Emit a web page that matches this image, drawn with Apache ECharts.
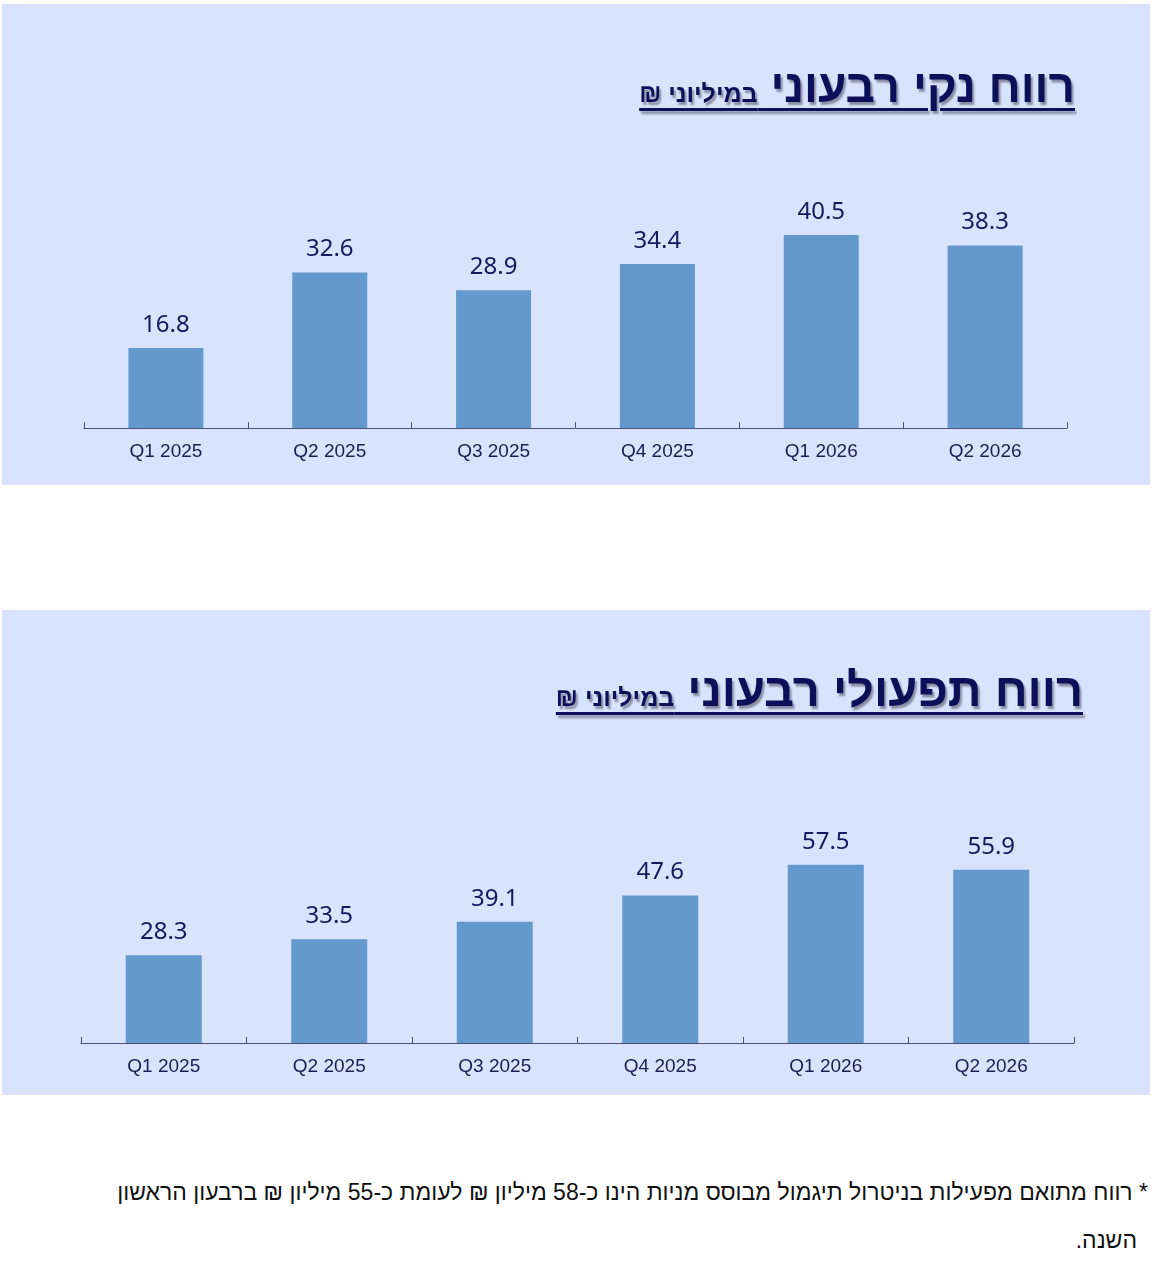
<!DOCTYPE html>
<html lang="he">
<head>
<meta charset="utf-8">
<title>רווח רבעוני</title>
<script src="https://cdn.jsdelivr.net/npm/echarts@6/dist/echarts.min.js"></script>
<style>
  body { margin:0; width:1156px; height:1280px; background:#fff; position:relative; overflow:hidden; }
  .panel { position:absolute; left:2px; width:1148px; background:#d9e3fd; }
  .chart { position:absolute; left:0; top:0; width:100%; height:100%; }
  .ttl { position:absolute; direction:rtl; white-space:pre; font-family:"Liberation Sans", Arial, "DejaVu Sans", sans-serif;
         font-weight:bold; color:#0d1058; text-decoration:underline; text-decoration-thickness:3px; text-underline-offset:6px;
         text-shadow:2px 3px 2px rgba(70,70,90,0.55); z-index:2; line-height:1; }
  .ttl .big { font-size:46px; }
  .ttl .small { font-size:25px; }
  .note { position:absolute; right:8px; top:1168px; direction:rtl; text-align:right; margin:0;
          font-family:"Liberation Sans Narrow", "Liberation Sans", Arial, sans-serif; font-size:23px; line-height:48px; color:#111; }
</style>
</head>
<body>
<div class="panel" id="p1" style="top:4px;height:481px;">
  <div class="ttl" style="right:75px;top:59px;"><span class="big">רווח נקי רבעוני </span><span class="small">במיליוני ₪</span></div>
  <div class="chart" id="c1"></div>
</div>
<div class="panel" id="p2" style="top:610px;height:485px;">
  <div class="ttl" style="right:67px;top:56px;"><span class="big" style="font-size:47px;">רווח תפעולי רבעוני </span><span class="small">במיליוני ₪</span></div>
  <div class="chart" id="c2"></div>
</div>
<p class="note">* רווח מתואם מפעילות בניטרול תיגמול מבוסס מניות הינו כ-58 מיליון ₪ לעומת כ-55 מיליון ₪ ברבעון הראשון<br><span style="margin-right:11px;">השנה.</span></p>

<script>
var quarters = ['Q1 2025', 'Q2 2025', 'Q3 2025', 'Q4 2025', 'Q1 2026', 'Q2 2026'];
var netProfit = [16.8, 32.6, 28.9, 34.4, 40.5, 38.3];
var operatingProfit = [28.3, 33.5, 39.1, 47.6, 57.5, 55.9];

/* one bar chart per panel */
function initChart(dom, values, grid, yMax, barW) {
    var myChart = echarts.init(dom);
    var option = {
        animation: false,
        grid: grid,
        xAxis: {
            type: 'category',
            data: quarters,
            axisLine: { lineStyle: { color: '#4a4f7e', width: 1 } },
            axisTick: { show: true, inside: true, length: 6, interval: 0, lineStyle: { color: '#4a4f7e', width: 1 } },
            axisLabel: { color: '#1c1d52', fontSize: 19, margin: 14, fontFamily: 'Liberation Sans, Arial, sans-serif' }
        },
        yAxis: {
            type: 'value',
            min: 0,
            max: yMax,
            show: false,
            splitLine: { show: false }
        },
        series: [
            {
                type: 'bar',
                data: values,
                barWidth: barW,
                itemStyle: { color: '#6399cd' },
                label: {
                    show: true,
                    position: 'top',
                    distance: 11,
                    color: '#15195e',
                    fontSize: 24,
                    fontFamily: 'Noto Sans, Liberation Sans, sans-serif',
                    formatter: function (p) { return p.value.toFixed(1); }
                }
            }
        ]
    };
    myChart.setOption(option, true);
    return myChart;
}

initChart(document.getElementById('c1'), netProfit, { left: 82, right: 83, top: 138, bottom: 57 }, 60, 75);
initChart(document.getElementById('c2'), operatingProfit, { left: 79, right: 76, top: 185, bottom: 52 }, 80, 76);
</script>
</body>
</html>
